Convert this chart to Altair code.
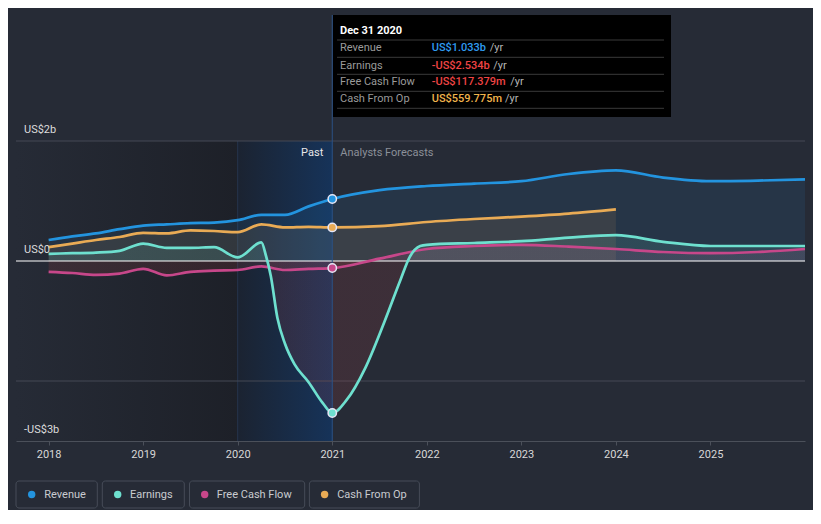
import altair as alt
import pandas as pd

# ---------------- data (values in US$ billions) ----------------
REV_YEARS = [2018.0, 2018.25, 2018.5, 2018.75, 2019.0, 2019.25, 2019.5, 2019.75, 2020.0,
             2020.25, 2020.5, 2020.75, 2021.0, 2021.5, 2022.0, 2022.5, 2023.0, 2023.5,
             2024.0, 2024.5, 2025.0, 2025.5, 2026.0]
REV_VALUES = [0.35, 0.41, 0.46, 0.53, 0.59, 0.61, 0.63, 0.64, 0.68,
              0.77, 0.77, 0.91, 1.033, 1.18, 1.25, 1.29, 1.33, 1.45,
              1.51, 1.39, 1.33, 1.34, 1.36]

CFO_YEARS = [2018.0, 2018.25, 2018.5, 2018.75, 2019.0, 2019.25, 2019.5, 2019.75, 2020.0,
             2020.25, 2020.5, 2020.75, 2021.0, 2021.5, 2022.0, 2022.5, 2023.0, 2023.5, 2024.0]
CFO_VALUES = [0.23, 0.29, 0.35, 0.40, 0.47, 0.46, 0.51, 0.50, 0.48,
              0.61, 0.56, 0.57, 0.559775, 0.58, 0.65, 0.70, 0.74, 0.79, 0.86]

EARN_YEARS = [2018.0, 2018.25, 2018.5, 2018.75, 2019.0, 2019.25, 2019.5, 2019.75, 2020.0,
              2020.25, 2020.3, 2020.35, 2020.42, 2020.5, 2020.6, 2020.75, 2020.9, 2021.0,
              2021.15, 2021.35, 2021.55, 2021.72, 2021.82, 2021.93, 2022.0, 2022.5, 2023.0,
              2023.5, 2024.0, 2024.5, 2025.0, 2025.5, 2026.0]
EARN_VALUES = [0.12, 0.13, 0.14, 0.17, 0.29, 0.22, 0.22, 0.23, 0.06,
               0.31, 0.08, -0.25, -0.95, -1.38, -1.72, -2.02, -2.37, -2.534,
               -2.32, -1.78, -1.02, -0.32, 0.07, 0.25, 0.27, 0.30, 0.33,
               0.39, 0.43, 0.32, 0.25, 0.25, 0.25]

FCF_YEARS = [2018.0, 2018.25, 2018.5, 2018.75, 2019.0, 2019.25, 2019.5, 2019.75, 2020.0,
             2020.25, 2020.5, 2020.75, 2021.0, 2021.5, 2022.0, 2022.5, 2023.0, 2023.5,
             2024.0, 2024.5, 2025.0, 2025.5, 2026.0]
FCF_VALUES = [-0.18, -0.20, -0.23, -0.21, -0.13, -0.24, -0.18, -0.16, -0.15,
              -0.09, -0.15, -0.13, -0.117379, 0.04, 0.20, 0.25, 0.27, 0.24,
              0.20, 0.15, 0.13, 0.15, 0.20]

SERIES = ["Revenue", "Earnings", "Free Cash Flow", "Cash From Op"]
LINE_COLORS = ["#2394df", "#6ee0cf", "#c7478a", "#e9ab55"]
VALUE_COLORS = ["#2f9bf0", "#ef4444", "#ef4444", "#f0b44c"]
NEG_FILL = "#e24a4a"

NOW_YEAR = 2021.0
PAST_START = 2020.0
TOOLTIP_DATE = "Dec 31 2020"
X_TICKS = [2018, 2019, 2020, 2021, 2022, 2023, 2024, 2025]
X_DOMAIN = [2017.655, 2026.0]
Y_DOMAIN = [-3, 2]
Y_LABEL_VALUES = [2, 0, -3]
Y_LABEL_TEXT = ["US$2b", "US$0", "-US$3b"]
GRID_VALUES = [2, -2]

# ---------------- layout ----------------
W, H = 789, 300
BG = "#262b36"
FONT = "Roboto"

xscale = alt.Scale(domain=X_DOMAIN, nice=False, zero=False)
yscale = alt.Scale(domain=Y_DOMAIN, nice=False, zero=False)
xaxis = alt.Axis(values=X_TICKS, format="d", title=None, grid=False,
                 domainColor="#4b505a", tickColor="#4b505a", tickSize=4,
                 labelColor="#d8d8d8", labelFontSize=11, labelPadding=3,
                 labelFont=FONT)


def X(field):
    return alt.X(f"{field}:Q", scale=xscale, axis=xaxis)


def Y(field):
    return alt.Y(f"{field}:Q", scale=yscale, axis=None)


def series_df(years, values):
    return pd.DataFrame({"year": years, "v": values})


one = pd.DataFrame({"k": [0]})

# background bands
dark_band = alt.Chart(pd.DataFrame({"x0": [X_DOMAIN[0]], "x1": [PAST_START]})).mark_rect(
    color=alt.Gradient(gradient="linear", x1=0, x2=1, y1=0, y2=0,
                       stops=[alt.GradientStop(color=BG, offset=0),
                              alt.GradientStop(color="#1d2028", offset=1)])
).encode(x=X("x0"), x2="x1:Q", y=alt.value(0), y2=alt.value(H))

past_band = alt.Chart(pd.DataFrame({"x0": [PAST_START], "x1": [NOW_YEAR]})).mark_rect(
    color=alt.Gradient(gradient="linear", x1=0, x2=1, y1=0, y2=0,
                       stops=[alt.GradientStop(color="#1b2331", offset=0),
                              alt.GradientStop(color="#163359", offset=1)])
).encode(x=X("x0"), x2="x1:Q", y=alt.value(0), y2=alt.value(H))

past_edge = alt.Chart(pd.DataFrame({"x0": [PAST_START]})).mark_rule(
    color="#25344d", strokeWidth=1
).encode(x=X("x0"), y=alt.value(0), y2=alt.value(H))

grid = alt.Chart(pd.DataFrame({"g": GRID_VALUES})).mark_rule(
    color="#444954", strokeWidth=1
).encode(y=Y("g"), x=alt.value(0), x2=alt.value(W))


def area_layer(years, values, color, opacity=0.1):
    df = series_df(years, values)
    vmax = max(max(values), 0)
    vmin = min(min(values), 0)
    if vmin < 0 < vmax:
        off = vmax / (vmax - vmin)
        fill = alt.Gradient(gradient="linear", x1=0, x2=0, y1=0, y2=1,
                            stops=[alt.GradientStop(color=color, offset=0),
                                   alt.GradientStop(color=color, offset=off),
                                   alt.GradientStop(color=NEG_FILL, offset=off),
                                   alt.GradientStop(color=NEG_FILL, offset=1)])
        return alt.Chart(df).mark_area(color=fill, interpolate="monotone",
                                       opacity=opacity + 0.02).encode(
            x=X("year"), y=Y("v"), y2=alt.datum(0))
    return alt.Chart(df).mark_area(color=color, interpolate="monotone",
                                   opacity=opacity).encode(
        x=X("year"), y=Y("v"), y2=alt.datum(0))


def line_layer(years, values, color):
    return alt.Chart(series_df(years, values)).mark_line(
        color=color, strokeWidth=2.7, interpolate="monotone"
    ).encode(x=X("year"), y=Y("v"))


areas = [
    area_layer(REV_YEARS, REV_VALUES, LINE_COLORS[0]),
    area_layer(CFO_YEARS, CFO_VALUES, LINE_COLORS[3]),
    area_layer(EARN_YEARS, EARN_VALUES, LINE_COLORS[1]),
    area_layer(FCF_YEARS, FCF_VALUES, LINE_COLORS[2]),
]

zero = alt.Chart(pd.DataFrame({"z": [0]})).mark_rule(
    color="#ffffff", strokeWidth=1.2
).encode(y=Y("z"), x=alt.value(0), x2=alt.value(W))

lines = [
    line_layer(REV_YEARS, REV_VALUES, LINE_COLORS[0]),
    line_layer(CFO_YEARS, CFO_VALUES, LINE_COLORS[3]),
    line_layer(FCF_YEARS, FCF_VALUES, LINE_COLORS[2]),
    line_layer(EARN_YEARS, EARN_VALUES, LINE_COLORS[1]),
]

# values at "now"
all_series = {
    "Revenue": (REV_YEARS, REV_VALUES),
    "Earnings": (EARN_YEARS, EARN_VALUES),
    "Free Cash Flow": (FCF_YEARS, FCF_VALUES),
    "Cash From Op": (CFO_YEARS, CFO_VALUES),
}
now_vals = [all_series[s][1][all_series[s][0].index(NOW_YEAR)] for s in SERIES]

now_line = alt.Chart(pd.DataFrame({"x0": [NOW_YEAR]})).mark_rule(
    color="#2b5185", strokeWidth=1
).encode(x=X("x0"), y=alt.value(-126), y2=alt.value(H))

pts = alt.Chart(pd.DataFrame({"s": SERIES, "year": [NOW_YEAR] * 4, "v": now_vals})).mark_point(
    filled=True, size=70, stroke="#e6e6f5", strokeWidth=1.5, opacity=1, shape="circle"
).encode(x=X("year"), y=Y("v"),
         fill=alt.Fill("s:N", scale=alt.Scale(domain=SERIES, range=LINE_COLORS), legend=None))

ylabels = alt.Chart(pd.DataFrame({"v": Y_LABEL_VALUES, "t": Y_LABEL_TEXT})).mark_text(
    align="left", baseline="alphabetic", dy=-8, color="#dcdcdc", fontSize=11, font=FONT
).encode(y=Y("v"), x=alt.value(8), text="t:N")

past_txt = alt.Chart(pd.DataFrame({"x0": [NOW_YEAR], "t": ["Past"]})).mark_text(
    align="right", baseline="middle", dx=-9, color="#e8e8e8", fontSize=11, font=FONT
).encode(x=X("x0"), y=alt.value(12), text="t:N")

fc_txt = alt.Chart(pd.DataFrame({"x0": [NOW_YEAR], "t": ["Analysts Forecasts"]})).mark_text(
    align="left", baseline="middle", dx=8, color="#8b9099", fontSize=11, font=FONT
).encode(x=X("x0"), y=alt.value(12), text="t:N")


# ---------------- tooltip box ----------------
def fmt(v):
    sign = "-" if v < 0 else ""
    a = abs(v)
    if a >= 1:
        return f"{sign}US${a:.3f}b"
    return f"{sign}US${a * 1000:.3f}m"


TIP_ROW_Y = [-92.7, -75.3, -58.7, -42.0]
TIP_SEP_Y = [-101.0, -83.7, -66.7, -49.7, -32.7]
TIP_UNIT_X = [473.7, 477.3, 494.3, 489.0]
tip_df = pd.DataFrame({
    "label": SERIES,
    "val": [fmt(v) for v in now_vals],
    "vcol": [VALUE_COLORS[i] if now_vals[i] >= 0 else "#ef4444" for i in range(4)],
    "py": TIP_ROW_Y,
    "ux": TIP_UNIT_X,
})

tip_box = alt.Chart(one).mark_rect(color="#000000").encode(
    x=alt.value(317), x2=alt.value(655), y=alt.value(-126), y2=alt.value(-24))
tip_sep = alt.Chart(pd.DataFrame({"py": TIP_SEP_Y})).mark_rule(color="#3a3a3a", strokeWidth=1).encode(
    y=alt.Y("py:Q", scale=None), x=alt.value(321), x2=alt.value(648))
tip_title = alt.Chart(pd.DataFrame({"t": [TOOLTIP_DATE]})).mark_text(
    align="left", baseline="middle", color="#ffffff", fontSize=11, fontWeight="bold", font=FONT
).encode(x=alt.value(324), y=alt.value(-110), text="t:N")
tip_lab = alt.Chart(tip_df).mark_text(
    align="left", baseline="middle", color="#9a9a9a", fontSize=11, font=FONT
).encode(x=alt.value(324), y=alt.Y("py:Q", scale=None), text="label:N")
tip_val = alt.Chart(tip_df).mark_text(
    align="left", baseline="middle", fontSize=11, font=FONT, fontWeight=500
).encode(x=alt.value(415.7), y=alt.Y("py:Q", scale=None), text="val:N",
         color=alt.Color("vcol:N", scale=None))
tip_unit = alt.Chart(tip_df).mark_text(
    align="left", baseline="middle", color="#b5b5b5", fontSize=11, font=FONT, text="/yr"
).encode(x=alt.X("ux:Q", scale=None), y=alt.Y("py:Q", scale=None))

# ---------------- custom legend ----------------
LEG_BOX_X0 = [0, 86.3, 173.5, 293.4]
LEG_BOX_X1 = [81.3, 168.3, 288.7, 403.4]
LEG_DOT_X = [15.7, 101.7, 188.7, 308.6]
LEG_TXT_X = [28.3, 114.0, 200.8, 321.2]
leg_df = pd.DataFrame({"s": SERIES, "c": LINE_COLORS, "bx0": LEG_BOX_X0, "bx1": LEG_BOX_X1,
                       "dx": LEG_DOT_X, "tx": LEG_TXT_X})
leg_box = alt.Chart(leg_df).mark_rect(
    fill=BG, stroke="#464c58", strokeWidth=1, cornerRadius=3
).encode(x=alt.X("bx0:Q", scale=None), x2="bx1:Q", y=alt.value(340), y2=alt.value(367))
leg_dot = alt.Chart(leg_df).mark_circle(size=55, opacity=1).encode(
    x=alt.X("dx:Q", scale=None), y=alt.value(353.5), color=alt.Color("c:N", scale=None))
leg_txt = alt.Chart(leg_df).mark_text(
    align="left", baseline="middle", color="#c9cbd0", fontSize=11, font=FONT
).encode(x=alt.X("tx:Q", scale=None), y=alt.value(353.5), text="s:N")

chart = alt.layer(
    dark_band, past_band, past_edge, grid, *areas, zero, *lines, now_line, pts,
    ylabels, past_txt, fc_txt, tip_box, tip_sep, tip_title, tip_lab, tip_val, tip_unit,
    leg_box, leg_dot, leg_txt
).properties(
    width=W, height=H,
    padding={"left": 8, "top": 133, "right": 8, "bottom": 69},
    autosize=alt.AutoSizeParams(type="none"),
    background=BG,
).configure(font=FONT).configure_view(stroke=None, strokeWidth=0)

chart.save("out.html", embed_options={"renderer": "svg", "actions": False})
